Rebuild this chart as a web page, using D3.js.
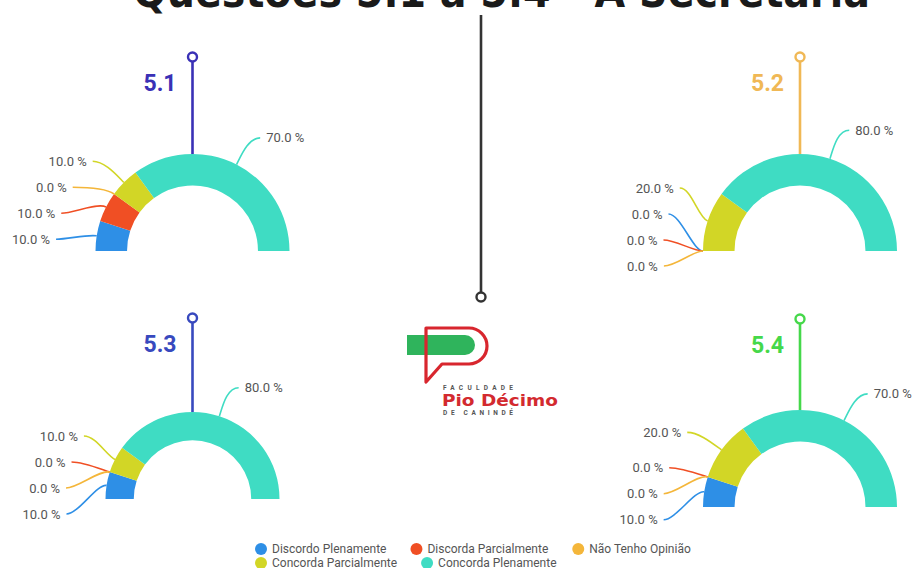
<!DOCTYPE html>
<html>
<head>
<meta charset="utf-8">
<title>Questões 5.1 a 5.4</title>
<script src="https://d3js.org/d3.v7.min.js"></script>
<style>
  body { margin: 0; background: #fff; }
  svg { display: block; font-family: Roboto, "Noto Sans", sans-serif; }
</style>
</head>
<body>
<div id="chart"></div>
<script>
// data
var categories = ["Discordo Plenamente", "Discorda Parcialmente", "Não Tenho Opinião", "Concorda Parcialmente", "Concorda Plenamente"];
var questions = ["5.1", "5.2", "5.3", "5.4"];
var q51 = [10, 10, 0, 10, 70];
var q52 = [0, 0, 0, 20, 80];
var q53 = [10, 0, 0, 10, 80];
var q54 = [10, 0, 0, 20, 70];
var title = "Questões 5.1 a 5.4 - A Secretaria";

var colors = ["#2e8fe6", "#f04f24", "#f4b63a", "#d2d626", "#3fdcc3"];
var stemColors = ["#3a31b6", "#f0b855", "#3849be", "#45d84a"];

var width = 913, height = 568;
var svg = d3.select("#chart").append("svg")
    .attr("width", width)
    .attr("height", height);

// title, cut off at top like the original
svg.append("text")
    .attr("x", 133).attr("y", 7)
    .attr("textLength", 737)
    .attr("lengthAdjust", "spacingAndGlyphs")
    .style("font-family", "'DejaVu Sans', sans-serif")
    .style("font-weight", "bold")
    .style("font-size", "44px")
    .style("fill", "#1a1a1a")
    .text(title);

// centre stem
svg.append("line")
    .attr("x1", 481).attr("x2", 481)
    .attr("y1", 15).attr("y2", 292)
    .attr("stroke", "#333").attr("stroke-width", 2.6);
svg.append("circle")
    .attr("cx", 481).attr("cy", 297).attr("r", 4.5)
    .attr("fill", "#fff").attr("stroke", "#333").attr("stroke-width", 2.4);

// gauge layout
var gauges = [
    {values: q51, cx: 192.5, cy: 251, r: 97, top: 57},
    {values: q52, cx: 800, cy: 251, r: 97, top: 57},
    {values: q53, cx: 192.5, cy: 499, r: 87, top: 318},
    {values: q54, cx: 800, cy: 507, r: 97, top: 319}
];

var pie = d3.pie().sort(null)
    .startAngle(-Math.PI / 2)
    .endAngle(Math.PI / 2);

gauges.forEach(function(gd, gi) {
    var g = svg.append("g").attr("transform", "translate(" + gd.cx + "," + gd.cy + ")");
    var inner = gd.r * 0.675;
    var arc = d3.arc().innerRadius(inner).outerRadius(gd.r);
    var slices = pie(gd.values);

    // stem + title
    g.append("line")
        .attr("x1", 0).attr("x2", 0)
        .attr("y1", gd.top - gd.cy + 5).attr("y2", -gd.r)
        .attr("stroke", stemColors[gi]).attr("stroke-width", 2.6);
    g.append("circle")
        .attr("cx", 0).attr("cy", gd.top - gd.cy).attr("r", 4.5)
        .attr("fill", "#fff").attr("stroke", stemColors[gi]).attr("stroke-width", 2.4);
    g.append("text")
        .attr("x", -16).attr("y", gd.top - gd.cy + 26)
        .attr("text-anchor", "end")
        .attr("dominant-baseline", "central")
        .style("font-size", "23px").style("font-weight", "bold")
        .style("fill", stemColors[gi])
        .text(questions[gi]);

    g.selectAll("path.slice")
        .data(slices)
        .enter().append("path")
        .attr("class", "slice")
        .attr("d", arc)
        .attr("fill", function(d, i) { return colors[i]; });

    // labels with leader lines
    var RL = gd.r + 30;
    var labels = slices.map(function(d, i) {
        var a = (d.startAngle + d.endAngle) / 2;
        return {
            i: i, a: a,
            side: Math.sin(a) < 0 ? -1 : 1,
            y: -RL * Math.cos(a),
            ax: gd.r * Math.sin(a),
            ay: -gd.r * Math.cos(a),
            rx: Math.sin(a), ry: -Math.cos(a),
            text: d.data.toFixed(1) + " %"
        };
    });
    [-1, 1].forEach(function(side) {
        var ls = labels.filter(function(l) { return l.side === side; })
            .sort(function(p, q) { return side < 0 ? q.a - p.a : p.a - q.a; });
        for (var k = 1; k < ls.length; k++) {
            ls[k].y = Math.max(ls[k].y, ls[k - 1].y + 26);
        }
        if (ls.length) ls[ls.length - 1].y = Math.min(ls[ls.length - 1].y, 15);
        for (var k2 = ls.length - 2; k2 >= 0; k2--) {
            ls[k2].y = Math.min(ls[k2].y, ls[k2 + 1].y - 26);
        }
    });
    labels.forEach(function(l) {
        var dy = Math.min(Math.abs(l.y), RL);
        l.x = l.side * Math.sqrt(RL * RL - dy * dy);
    });

    var lg = g.selectAll("g.lbl").data(labels).enter().append("g").attr("class", "lbl");
    lg.append("path")
        .attr("d", function(l) {
            var p = d3.path();
            var sx = l.x + l.side * 10;
            p.moveTo(l.ax, l.ay);
            p.bezierCurveTo(l.ax + l.rx * 10, l.ay + l.ry * 10, sx - l.side * 12, l.y, sx, l.y);
            return p.toString();
        })
        .attr("fill", "none")
        .attr("stroke", function(l) { return colors[l.i]; })
        .attr("stroke-width", 1.6);
    lg.append("text")
        .attr("x", function(l) { return l.x + l.side * 16; })
        .attr("y", function(l) { return l.y; })
        .attr("text-anchor", function(l) { return l.side < 0 ? "end" : "start"; })
        .attr("dominant-baseline", "central")
        .style("font-size", "13px")
        .style("fill", "#555")
        .text(function(l) { return l.text; });
});

// logo
var logo = svg.append("g");
logo.append("path")
    .attr("d", "M407,335 H465 A10,10 0 0 1 465,355 H407 Z")
    .attr("fill", "#2fb45c");
logo.append("path")
    .attr("d", "M426,328 H469 A18,18 0 0 1 469,364 H442 L426,382 Z")
    .attr("fill", "none").attr("stroke", "#d8262e").attr("stroke-width", 3.2)
    .attr("stroke-linejoin", "round");
logo.append("text")
    .attr("x", 443).attr("y", 388).attr("dominant-baseline", "central")
    .attr("textLength", 70)
    .style("font-size", "6.5px").style("font-weight", "bold").style("fill", "#555")
    .text("FACULDADE");
logo.append("text")
    .attr("x", 442).attr("y", 405.5)
    .attr("textLength", 116).attr("lengthAdjust", "spacingAndGlyphs")
    .style("font-family", "'DejaVu Sans', sans-serif")
    .style("font-size", "15px").style("font-weight", "bold").style("fill", "#d32a2f")
    .text("Pio Décimo");
logo.append("text")
    .attr("x", 443).attr("y", 413).attr("dominant-baseline", "central")
    .attr("textLength", 70)
    .style("font-size", "6.5px").style("font-weight", "bold").style("fill", "#555")
    .text("DE CANINDÉ");

// legend
var legend = svg.append("g");
var rows = [[0, 1, 2], [3, 4]];
rows.forEach(function(row, ri) {
    var x = 261, y = 549 + ri * 14;
    row.forEach(function(ci) {
        var item = legend.append("g");
        item.append("circle")
            .attr("cx", x).attr("cy", y).attr("r", 6)
            .attr("fill", colors[ci]);
        var t = item.append("text")
            .attr("x", x + 11).attr("y", y)
            .attr("dominant-baseline", "central")
            .style("font-size", "12px").style("fill", "#555")
            .text(categories[ci]);
        x += 11 + t.node().getComputedTextLength() + 30;
    });
});
</script>
</body>
</html>
